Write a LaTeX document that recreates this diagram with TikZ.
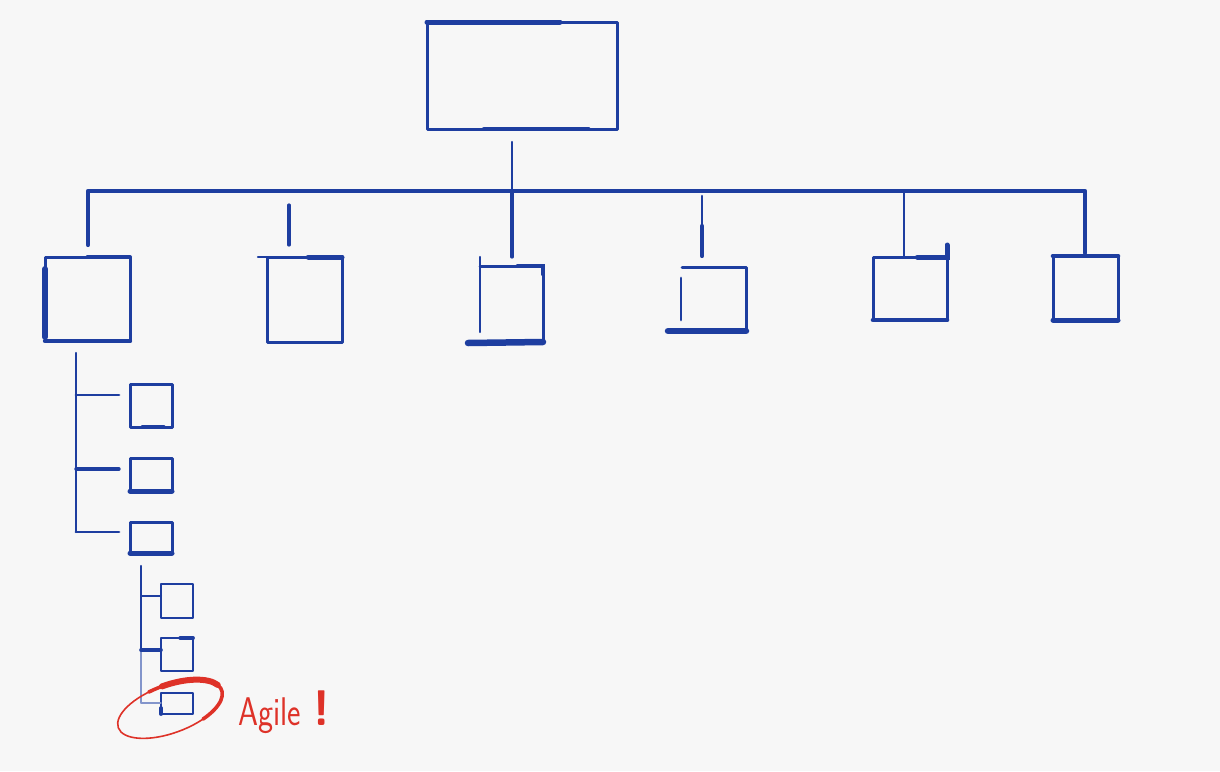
\documentclass[tikz,border=0pt]{standalone}
\usepackage{tikz}
\usetikzlibrary{calc}
\definecolor{inkblue}{RGB}{30,62,160}
\definecolor{inkred}{RGB}{222,50,40}
\definecolor{paper}{RGB}{247,247,247}
\begin{document}
\begin{tikzpicture}[x=1pt,y=-1pt,
  ink/.style={draw=inkblue,line width=3pt,line cap=round,line join=round},
  heavy/.style={draw=inkblue,line width=5.5pt,line cap=round},
  fine/.style={draw=inkblue,line width=2pt,line cap=round},
  box/.style={rectangle,inner sep=0pt,outer sep=0pt,anchor=north west,ink},
  ghost/.style={rectangle,inner sep=0pt,outer sep=0pt,anchor=north west},
  redink/.style={draw=inkred,line cap=round}]
\fill[paper] (0,0) rectangle (1220,771);
\useasboundingbox (0,0) rectangle (1220,771);
% top box
\node[box,minimum width=190pt,minimum height=107pt] (top) at (427,22) {};
\draw[heavy,line width=5pt] (top.north west) -- ($(top.north west)!0.7!(top.north east)$);
\draw[heavy,line width=4.2pt] ($(top.south west)!0.3!(top.south east)$) -- ($(top.south west)!0.85!(top.south east)$);
% level-2 boxes
\node[box,minimum width=85pt,minimum height=84pt] (b1) at (45,257) {};
\node[box,minimum width=75pt,minimum height=85pt] (b2) at (267,257) {};
\node[ghost,minimum width=63pt,minimum height=76pt] (b3) at (480,266) {};
\node[ghost,minimum width=64pt,minimum height=64pt] (b4) at (682,267) {};
\node[box,minimum width=74pt,minimum height=63pt] (b5) at (873,257) {};
\node[box,minimum width=65pt,minimum height=64pt] (b6) at (1053,256) {};
% connector points
\coordinate (topdrop) at (512,142);
\coordinate (hub) at (512,191);
\coordinate (barL) at (88,191);
\coordinate (barR) at (1085,191);
\coordinate (d1) at (88,245);
\coordinate (d2a) at (289,205);
\coordinate (d2) at (289,245);
\coordinate (d3) at (512,257);
\coordinate (d4a) at (702,196);
\coordinate (d4) at (702,256);
\coordinate (d5a) at (904,191);
\coordinate (d6) at (1085,253);
% bar and drops
\draw[ink,line width=2.2pt] (topdrop) -- (hub);
\draw[ink,line width=4.2pt] (d1) -- (barL) -- (barR) -- (d6);
\draw[ink,line width=3.2pt] (d2a) -- (d2);
\draw[ink,line width=3.2pt] (hub) -- (d3);
\draw[ink,line width=2.6pt] (d4a) -- ($(d4a)!0.5!(d4)$);
\draw[heavy,line width=4.2pt] ($(d4a)!0.5!(d4)$) -- (d4);
\draw[ink,line width=2.2pt] (d5a) -- (b5.north west -| d5a);
% box details
\draw[heavy,line width=6pt] ($(b1.north west)+(0,12)$) -- ($(b1.south west)+(0,-4)$);
\draw[heavy,line width=4.4pt] (b1.south west) -- (b1.south east);
\draw[heavy,line width=4pt] ($(b1.north west)!0.5!(b1.north east)$) -- (b1.north east);
\draw[ink,line width=2.4pt] ($(b2.north west)+(-9,0)$) -- (b2.north west);
\draw[heavy,line width=5pt] ($(b2.north west)!0.55!(b2.north east)$) -- (b2.north east);
\draw[fine,line width=2.4pt] ($(b3.north west)+(0,-9)$) -- ($(b3.south west)+(0,-10)$);
\draw[ink] (b3.north west) -- (b3.north east) -- (b3.south east);
\draw[heavy,line width=4.6pt] ($(b3.north west)!0.6!(b3.north east)$) -- (b3.north east) -- ($(b3.north east)+(0,8)$);
\draw[heavy,line width=6.5pt] ($(b3.south west)+(-12,1)$) -- (b3.south east);
\draw[ink] (b4.north west) -- (b4.north east) -- (b4.south east);
\draw[heavy,line width=6.5pt] ($(b4.south west)+(-14,0)$) -- (b4.south east);
\draw[fine,line width=2.8pt] ($(b4.north west)+(-1,11)$) -- ($(b4.south west)+(-1,-11)$);
\draw[heavy,line width=5pt] ($(b5.north west)!0.6!(b5.north east)$) -- (b5.north east) -- ($(b5.north east)+(0,-12)$);
\draw[heavy,line width=4.6pt] (b5.south west) -- (b5.south east);
\draw[heavy,line width=4.6pt] (b6.north west) -- (b6.north east);
\draw[heavy,line width=5pt] (b6.south west) -- (b6.south east);
% first sub-tree
\node[box,minimum width=42pt,minimum height=43pt] (c1) at (130,384) {};
\node[box,minimum width=42pt,minimum height=33pt] (c2) at (130,458) {};
\node[box,minimum width=42pt,minimum height=31pt] (c3) at (130,522) {};
\coordinate (s1) at (76,353);
\coordinate (s1a) at (76,395);
\coordinate (s1b) at (76,469);
\coordinate (s1c) at (76,532);
\coordinate (t1) at (119,395);
\coordinate (t2) at (119,469);
\coordinate (t3) at (119,532);
\draw[fine,line width=2.2pt] (s1) -- (s1c);
\draw[ink,line width=2.8pt] (s1a) -- (t1);
\draw[ink,line width=3.4pt] (s1b) -- (t2);
\draw[ink,line width=2.8pt] (s1c) -- (t3);
\draw[heavy,line width=4.2pt] ($(c1.south west)!0.3!(c1.south east)$) -- ($(c1.south west)!0.8!(c1.south east)$);
\draw[heavy,line width=5pt] (c2.south west) -- (c2.south east);
\draw[heavy,line width=5pt] (c3.south west) -- (c3.south east);
% second sub-tree
\node[box,line width=2.6pt,minimum width=32pt,minimum height=34pt] (e1) at (161,584) {};
\node[box,line width=2.6pt,minimum width=32pt,minimum height=33pt] (e2) at (161,638) {};
\node[box,line width=2.6pt,minimum width=32pt,minimum height=21pt] (e3) at (161,693) {};
\coordinate (s2) at (141,566);
\coordinate (s2a) at (141,596);
\coordinate (s2b) at (141,650);
\coordinate (s2c) at (141,703);
\draw[fine,line width=2.2pt] (s2) -- (s2b);
\draw[fine,line width=1.2pt,draw=inkblue!55] (s2b) -- (s2c);
\draw[fine,line width=2pt] (s2a) -- (e1.west |- s2a);
\draw[heavy,line width=3.6pt] (s2b) -- (e2.west |- s2b);
\draw[fine,line width=1.2pt,draw=inkblue!55] (s2c) -- (e3.west |- s2c);
\draw[heavy,line width=3.8pt] ($(e2.north west)!0.6!(e2.north east)$) -- (e2.north east);
\draw[heavy,line width=3.8pt] ($(e3.south west)+(0,-6)$) -- (e3.south west);
% red ring
\begin{scope}[shift={(170,709)},y=1pt,rotate=20]
  \draw[redink,line width=1.6pt] (0,0) ellipse [x radius=55pt, y radius=24pt];
  \draw[redink,line width=3.6pt] (105:55pt and 24pt) arc[start angle=105, end angle=-60, x radius=55pt, y radius=24pt];
  \draw[redink,line width=6pt] (90:55pt and 24pt) arc[start angle=90, end angle=15, x radius=55pt, y radius=24pt];
\end{scope}
\node[anchor=base west,text=inkred,inner sep=0pt,font=\fontsize{40}{40}\selectfont\sffamily] (agile) at (238,725) {\scalebox{0.8}[1]{Agile}\hspace{12pt}{\fontsize{50}{50}\selectfont\bfseries !}};
\end{tikzpicture}
\end{document}
